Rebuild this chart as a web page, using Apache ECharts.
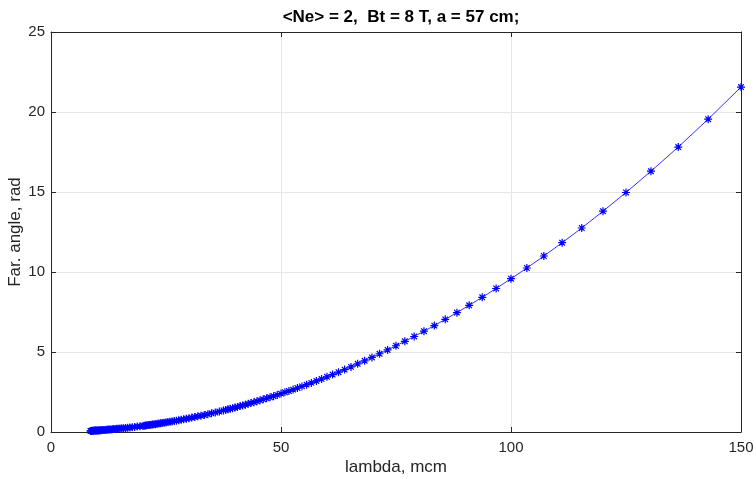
<!DOCTYPE html>
<html>
<head>
<meta charset="utf-8">
<script src="https://cdn.jsdelivr.net/npm/echarts@6/dist/echarts.min.js"></script>
<style>
html,body{margin:0;padding:0;background:#fff;}
#chart{width:756px;height:479px;}
</style>
</head>
<body>
<div id="chart"></div>
<script>
var titleText = '<Ne> = 2,  Bt = 8 T, a = 57 cm;';
var xName = 'lambda, mcm';
var yName = 'Far. angle, rad';
var xTicks = [0, 50, 100, 150];
var yTicks = [0, 5, 10, 15, 20, 25];

var lambda = [
150.00,142.86,136.36,130.43,125.00,120.00,115.38,111.11,107.14,103.45,
100.00,96.77,93.75,90.91,88.24,85.71,83.33,81.08,78.95,76.92,
75.00,73.17,71.43,69.77,68.18,66.67,65.22,63.83,62.50,61.22,
60.00,58.82,57.69,56.60,55.56,54.55,53.57,52.63,51.72,50.85,
50.00,49.18,48.39,47.62,46.88,46.15,45.45,44.78,44.12,43.48,
42.86,42.25,41.67,41.10,40.54,40.00,39.47,38.96,38.46,37.97,
37.50,36.59,35.71,34.88,34.09,33.33,32.61,31.91,31.25,30.61,
30.00,29.41,28.85,28.30,27.78,27.27,26.79,26.32,25.86,25.42,
25.00,24.59,24.19,23.81,23.44,23.08,22.73,22.39,22.06,21.74,
21.43,21.13,20.83,20.55,20.27,20.00,19.35,18.75,18.18,17.65,
17.14,16.67,16.22,15.79,15.38,15.00,14.63,14.29,13.95,13.64,
13.33,13.04,12.77,12.50,12.24,12.00,11.76,11.54,11.32,11.11,
10.91,10.71,10.53,10.34,10.17,10.00,9.84,9.68,9.52,9.38,
9.23,9.09,8.96,8.82,8.70,8.57
];
var angle = [
21.56,19.55,17.81,16.30,14.97,13.80,12.75,11.83,11.00,10.25,
9.58,8.97,8.42,7.92,7.46,7.04,6.65,6.30,5.97,5.67,
5.39,5.13,4.89,4.66,4.45,4.26,4.07,3.90,3.74,3.59,
3.45,3.31,3.19,3.07,2.96,2.85,2.75,2.65,2.56,2.48,
2.40,2.32,2.24,2.17,2.11,2.04,1.98,1.92,1.86,1.81,
1.76,1.71,1.66,1.62,1.57,1.53,1.49,1.45,1.42,1.38,
1.35,1.28,1.22,1.17,1.11,1.06,1.02,0.98,0.94,0.90,
0.86,0.83,0.80,0.77,0.74,0.71,0.69,0.66,0.64,0.62,
0.60,0.58,0.56,0.54,0.53,0.51,0.49,0.48,0.47,0.45,
0.44,0.43,0.42,0.40,0.39,0.38,0.36,0.34,0.32,0.30,
0.28,0.27,0.25,0.24,0.23,0.22,0.21,0.20,0.19,0.18,
0.17,0.16,0.16,0.15,0.14,0.14,0.13,0.13,0.12,0.12,
0.11,0.11,0.11,0.10,0.10,0.10,0.09,0.09,0.09,0.08,
0.08,0.08,0.08,0.07,0.07,0.07
];

var pts = lambda.map(function(x, i){ return [x, angle[i]]; });

var axisColor = '#262626';
var gridColor = '#e6e6e6';
var fontFam = 'Liberation Sans, Arial, Helvetica, sans-serif';

function mkX(pos, showLabel, withName) {
  return {
    type: 'value', position: pos,
    min: xTicks[0], max: xTicks[xTicks.length-1], interval: xTicks[1]-xTicks[0],
    name: withName ? xName : '', nameLocation: 'middle', nameGap: 27,
    nameMoveOverlap: false,
    nameTextStyle: {color: axisColor, fontSize: 17, fontFamily: fontFam},
    axisLine: {show: true, onZero: false, lineStyle: {color: axisColor, width: 1}},
    axisTick: {show: true, inside: true, length: 5, lineStyle: {color: axisColor}},
    axisLabel: {show: showLabel, color: axisColor, fontSize: 15, fontFamily: fontFam, margin: 8},
    splitLine: {show: showLabel, lineStyle: {color: gridColor, width: 1}}
  };
}
function mkY(pos, showLabel, withName) {
  return {
    type: 'value', position: pos,
    min: yTicks[0], max: yTicks[yTicks.length-1], interval: yTicks[1]-yTicks[0],
    name: withName ? yName : '', nameLocation: 'middle', nameGap: 27,
    nameMoveOverlap: false,
    nameTextStyle: {color: axisColor, fontSize: 17, fontFamily: fontFam},
    axisLine: {show: true, onZero: false, lineStyle: {color: axisColor, width: 1}},
    axisTick: {show: true, inside: true, length: 5, lineStyle: {color: axisColor}},
    axisLabel: {show: showLabel, color: axisColor, fontSize: 15, fontFamily: fontFam, margin: 6},
    splitLine: {show: showLabel, lineStyle: {color: gridColor, width: 1}}
  };
}

var chart = echarts.init(document.getElementById('chart'), null, {renderer: 'canvas'});
chart.setOption({
  animation: false,
  backgroundColor: '#ffffff',
  title: {
    text: titleText, left: 396, top: 4, textAlign: 'center',
    textStyle: {color: '#000', fontSize: 17, fontWeight: 'bold', fontFamily: fontFam}
  },
  grid: {left: 51, right: 15, top: 32, bottom: 47, containLabel: false, outerBoundsMode: 'none'},
  xAxis: [mkX('bottom', true, true), mkX('top', false, false)],
  yAxis: [mkY('left', true, true), mkY('right', false, false)],
  series: [{
    type: 'line',
    xAxisIndex: 0, yAxisIndex: 0,
    data: pts,
    symbol: 'path://M5,0L5,10M0,5L10,5M1.5,1.5L8.5,8.5M1.5,8.5L8.5,1.5',
    symbolSize: 8,
    showAllSymbol: true,
    lineStyle: {color: '#3333ff', width: 1},
    itemStyle: {color: 'rgba(0,0,255,0)', borderColor: '#0000ff', borderWidth: 1.2}
  }]
});
</script>
</body>
</html>
